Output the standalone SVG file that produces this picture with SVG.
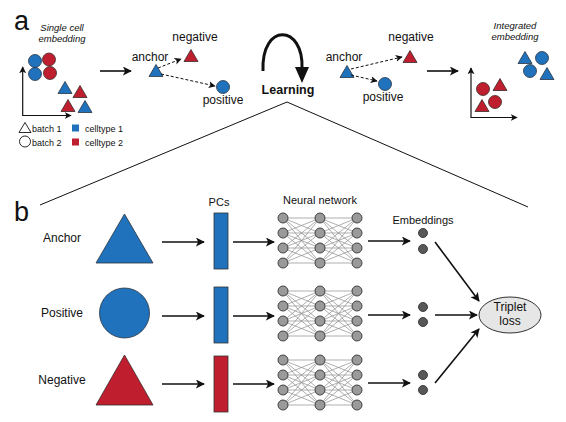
<svg xmlns="http://www.w3.org/2000/svg" xmlns:xlink="http://www.w3.org/1999/xlink" width="566" height="422" viewBox="0 0 566 422">
<style>
text{font-family:"Liberation Sans",Arial,sans-serif;fill:#111}
.big{font-size:27px}
.it{font-size:9.5px;font-style:italic;text-anchor:middle}
.lab{font-size:12px;text-anchor:middle}
.leg{font-size:9px}
.hdr{font-size:11px;text-anchor:middle}
.blue{fill:#1f72bb;stroke:#2a3340;stroke-width:0.8}
.red{fill:#be1e2d;stroke:#3a2a2a;stroke-width:0.8}
.arr{stroke:#111;stroke-width:1.6;fill:none;marker-end:url(#ah)}
.ax{stroke:#111;stroke-width:1.2;fill:none;marker-end:url(#sah)}
.dash{stroke:#111;stroke-width:1;fill:none;stroke-dasharray:3 2;marker-end:url(#sah)}
.nn{fill:#9a9a9a;stroke:#333;stroke-width:0.9}
.emb{fill:#585858;stroke:#333;stroke-width:0.9}
.wire{stroke:#8c8c8c;stroke-width:0.7;fill:none}
</style>
<defs>
<marker id="ah" viewBox="0 0 10 10" refX="9" refY="5" markerWidth="9" markerHeight="9" markerUnits="userSpaceOnUse" orient="auto">
<path d="M0,0 L10,5 L0,10 L2.5,5 z" fill="#111"/>
</marker>
<marker id="sah" viewBox="0 0 10 10" refX="9" refY="5" markerWidth="7" markerHeight="7" markerUnits="userSpaceOnUse" orient="auto">
<path d="M0,0 L10,5 L0,10 L2.5,5 z" fill="#111"/>
</marker>
<path id="wires1" class="wire" d="M0,0L37,0M0,0L37,15M0,0L37,30M0,0L37,45M0,15L37,0M0,15L37,15M0,15L37,30M0,15L37,45M0,30L37,0M0,30L37,15M0,30L37,30M0,30L37,45M0,45L37,0M0,45L37,15M0,45L37,30M0,45L37,45"/>
<g id="net">
<use xlink:href="#wires1" href="#wires1"/>
<use xlink:href="#wires1" href="#wires1" x="37"/>
<circle class="nn" cx="0" cy="0" r="5"/><circle class="nn" cx="0" cy="15" r="5"/><circle class="nn" cx="0" cy="30" r="5"/><circle class="nn" cx="0" cy="45" r="5"/>
<circle class="nn" cx="37" cy="0" r="5"/><circle class="nn" cx="37" cy="15" r="5"/><circle class="nn" cx="37" cy="30" r="5"/><circle class="nn" cx="37" cy="45" r="5"/>
<circle class="nn" cx="74" cy="0" r="5"/><circle class="nn" cx="74" cy="15" r="5"/><circle class="nn" cx="74" cy="30" r="5"/><circle class="nn" cx="74" cy="45" r="5"/>
</g>
<polygon id="tri" points="0,-6.5 -7,5.5 7,5.5"/>
</defs>

<!-- panel labels -->
<text class="big" x="14" y="30">a</text>
<text class="big" x="14" y="221">b</text>

<!-- panel a: single cell embedding -->
<g id="plot-before">
<text class="it" x="62" y="31">Single cell</text>
<text class="it" x="62" y="42">embedding</text>
<path class="ax" d="M22.7,115.5 L22.7,67"/>
<path class="ax" d="M22.2,115.5 L71,115.5"/>
<circle class="blue" cx="35" cy="61" r="6.5"/>
<circle class="red" cx="49" cy="59.5" r="6.5"/>
<circle class="blue" cx="35" cy="74" r="6.5"/>
<circle class="red" cx="50" cy="73" r="6.5"/>
<use href="#tri" xlink:href="#tri" class="blue" x="65" y="88"/>
<use href="#tri" xlink:href="#tri" class="red" x="80" y="92"/>
<use href="#tri" xlink:href="#tri" class="red" x="68" y="106"/>
<use href="#tri" xlink:href="#tri" class="blue" x="85" y="107"/>
</g>

<g id="legend">
<polygon points="25,122.5 19,132.5 31,132.5" fill="none" stroke="#111" stroke-width="0.9"/>
<text class="leg" x="32" y="132">batch 1</text>
<circle cx="25" cy="141.5" r="5.5" fill="none" stroke="#111" stroke-width="0.9"/>
<text class="leg" x="32" y="146">batch 2</text>
<rect x="72" y="124.5" width="7" height="7" fill="#1f72bb"/>
<text class="leg" x="85" y="132">celltype 1</text>
<rect x="72" y="138.5" width="7" height="7" fill="#be1e2d"/>
<text class="leg" x="85" y="146">celltype 2</text>
</g>

<g id="triplet-before">
<text class="lab" x="150" y="61">anchor</text>
<text class="lab" x="195" y="41">negative</text>
<text class="lab" x="223" y="104">positive</text>
<use href="#tri" xlink:href="#tri" class="blue" x="156" y="71"/>
<use href="#tri" xlink:href="#tri" class="red" x="191" y="56"/>
<circle class="blue" cx="223" cy="87" r="6.5"/>
</g>

<g id="learning">
<path d="M263,71 C261,22 304,24 302,69" stroke="#111" stroke-width="3" fill="none"/>
<path d="M295,67 L309,67 L302,83 z" fill="#111"/>
<text x="288" y="94" text-anchor="middle" style="font-size:12.5px;font-weight:bold">Learning</text>
</g>

<g id="triplet-after">
<text class="lab" x="344" y="61">anchor</text>
<text class="lab" x="411" y="41">negative</text>
<text class="lab" x="383" y="101">positive</text>
<use href="#tri" xlink:href="#tri" class="blue" x="347" y="72"/>
<use href="#tri" xlink:href="#tri" class="red" x="410" y="57"/>
<circle class="blue" cx="385" cy="84" r="6.5"/>
</g>

<g id="plot-after">
<text class="it" x="515" y="29">Integrated</text>
<text class="it" x="515" y="40">embedding</text>
<path class="ax" d="M471,117.5 L471,68"/>
<path class="ax" d="M470.5,117.5 L517,117.5"/>
<circle class="red" cx="483" cy="89" r="6.5"/>
<use href="#tri" xlink:href="#tri" class="red" x="500" y="85"/>
<use href="#tri" xlink:href="#tri" class="red" x="482" y="106"/>
<circle class="red" cx="495" cy="102" r="6.5"/>
<use href="#tri" xlink:href="#tri" class="blue" x="525" y="58"/>
<circle class="blue" cx="542" cy="58" r="6.5"/>
<circle class="blue" cx="530" cy="71" r="6.5"/>
<use href="#tri" xlink:href="#tri" class="blue" x="547" y="74"/>
</g>

<!-- panel b nodes -->
<g id="anchor-row">
<text class="lab" x="62" y="242">Anchor</text>
<polygon points="124.5,214 96,263 153,263" class="blue"/>
</g>
<g id="positive-row">
<text class="lab" x="62" y="317">Positive</text>
<circle cx="124.5" cy="313" r="25" class="blue"/>
</g>
<g id="negative-row">
<text class="lab" x="62" y="384">Negative</text>
<polygon points="124.5,355 96,405 153,405" class="red"/>
</g>

<g id="pcs">
<text class="hdr" x="219" y="206">PCs</text>
<rect x="214" y="213" width="14" height="56" fill="#1f72bb" stroke="#333" stroke-width="0.8"/>
<rect x="214" y="287" width="14" height="56" fill="#1f72bb" stroke="#333" stroke-width="0.8"/>
<rect x="214" y="356" width="14" height="56" fill="#be1e2d" stroke="#333" stroke-width="0.8"/>
</g>

<g id="neural-network">
<text class="hdr" x="320" y="204">Neural network</text>
<use href="#net" xlink:href="#net" x="283" y="218"/>
<use href="#net" xlink:href="#net" x="283" y="291"/>
<use href="#net" xlink:href="#net" x="283" y="360"/>
</g>

<g id="embeddings">
<text class="hdr" x="423" y="224">Embeddings</text>
<circle class="emb" cx="423" cy="233" r="4.5"/>
<circle class="emb" cx="423" cy="249" r="4.5"/>
<circle class="emb" cx="423" cy="307" r="4.5"/>
<circle class="emb" cx="423" cy="322" r="4.5"/>
<circle class="emb" cx="423" cy="375" r="4.5"/>
<circle class="emb" cx="423" cy="390" r="4.5"/>
</g>

<g id="triplet-loss">
<ellipse cx="510" cy="315" rx="31" ry="18" fill="#e6e6e6" stroke="#333" stroke-width="1"/>
<text class="lab" x="510" y="311">Triplet</text>
<text class="lab" x="510" y="325">loss</text>
</g>

<!-- connectors -->
<g id="connectors">
<path class="arr" d="M100,71 L131,71"/>
<path class="dash" d="M158,68 L181,59"/>
<path class="dash" d="M161,74 L215,86"/>
<path class="dash" d="M351,69 L402,57"/>
<path class="dash" d="M351,75 L377,81"/>
<path class="arr" d="M427,71 L458,71"/>
<path d="M40,205 L287,102 L528,207" stroke="#111" stroke-width="1" fill="none"/>
<path class="arr" d="M162,242 L204,242"/>
<path class="arr" d="M162,316 L204,316"/>
<path class="arr" d="M162,384 L204,384"/>
<path class="arr" d="M233,242 L274,242"/>
<path class="arr" d="M233,316 L274,316"/>
<path class="arr" d="M233,384 L274,384"/>
<path class="arr" d="M368,241 L410,241"/>
<path class="arr" d="M368,315 L410,315"/>
<path class="arr" d="M368,383 L410,383"/>
<path class="arr" d="M435,242 L479,301"/>
<path class="arr" d="M435,315 L477,315"/>
<path class="arr" d="M435,383 L479,329"/>
</g>
</svg>
